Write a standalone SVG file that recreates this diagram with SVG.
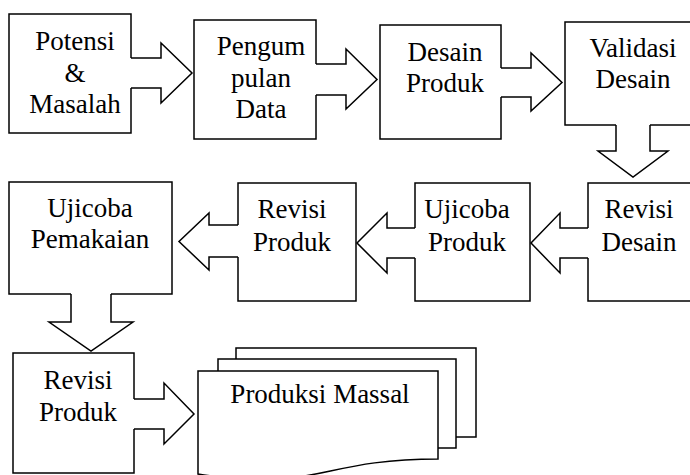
<svg xmlns="http://www.w3.org/2000/svg" width="690" height="475" viewBox="0 0 690 475">
<style>
.box{fill:#fff;stroke:#000;stroke-width:1.5}
.af{fill:#fff;stroke:none}
.as{fill:none;stroke:#000;stroke-width:1.5;stroke-linejoin:miter}
.t{font-family:'Liberation Serif','Times New Roman',Tinos,'DejaVu Serif',serif;font-size:27px;fill:#000;text-anchor:middle}
</style>
<rect width="690" height="475" fill="#fff"/>
<g id="n1"><rect class="box" x="9" y="14" width="122" height="119"/><g class="t" font-family="Liberation Serif, serif"><text x="75" y="50">Potensi</text><text x="75" y="82">&amp;</text><text x="75" y="113">Masalah</text></g></g>
<g id="n2"><rect class="box" x="194" y="20" width="122" height="119"/><g class="t" font-family="Liberation Serif, serif"><text x="261" y="55">Pengum</text><text x="261" y="87">pulan</text><text x="261" y="118">Data</text></g></g>
<g id="n3"><rect class="box" x="380" y="25" width="121" height="114"/><g class="t" font-family="Liberation Serif, serif"><text x="445" y="61">Desain</text><text x="445" y="92">Produk</text></g></g>
<g id="n4"><rect class="box" x="565" y="22" width="140" height="103"/><g class="t" font-family="Liberation Serif, serif"><text x="633" y="57">Validasi</text><text x="633" y="88">Desain</text></g></g>
<g id="n5"><rect class="box" x="588" y="183" width="120" height="118"/><g class="t" font-family="Liberation Serif, serif"><text x="639" y="218">Revisi</text><text x="639" y="251">Desain</text></g></g>
<g id="n6"><rect class="box" x="415" y="183" width="115" height="118"/><g class="t" font-family="Liberation Serif, serif"><text x="467" y="218">Ujicoba</text><text x="467" y="251">Produk</text></g></g>
<g id="n7"><rect class="box" x="238" y="183" width="118" height="118"/><g class="t" font-family="Liberation Serif, serif"><text x="292" y="218">Revisi</text><text x="292" y="251">Produk</text></g></g>
<g id="n8"><rect class="box" x="9" y="182" width="163" height="112"/><g class="t" font-family="Liberation Serif, serif"><text x="90" y="217">Ujicoba</text><text x="90" y="248">Pemakaian</text></g></g>
<g id="n9"><rect class="box" x="13" y="353" width="121" height="120"/><g class="t" font-family="Liberation Serif, serif"><text x="78" y="389">Revisi</text><text x="78" y="421">Produk</text></g></g>
<g id="n10">
<rect class="box" x="236" y="348" width="240" height="89"/>
<rect class="box" x="218" y="359" width="238" height="89"/>
<path class="box" d="M198,371 H438 V459 C318,459 318,493 198,474 Z"/>
<g class="t" font-family="Liberation Serif, serif"><text x="320" y="403">Produksi Massal</text></g>
</g>
<g id="connectors">
<polygon class="af" points="129,58 161,58 161,43 192,73 161,103 161,88 129,88"/>
<polyline class="as" points="131,58 161,58 161,43 192,73 161,103 161,88 131,88"/>
<polygon class="af" points="314,64 346,64 346,49 377,79.5 346,109 346,95 314,95"/>
<polyline class="as" points="316,64 346,64 346,49 377,79.5 346,109 346,95 316,95"/>
<polygon class="af" points="499,68 531,68 531,53 562,82.5 531,111 531,97 499,97"/>
<polyline class="as" points="501,68 531,68 531,53 562,82.5 531,111 531,97 501,97"/>
<polygon class="af" points="616,123 616,151 598,151 633,177 668,151 650,151 650,123"/>
<polyline class="as" points="616,125 616,151 598,151 633,177 668,151 650,151 650,125"/>
<polygon class="af" points="590,228 560,228 560,213 531,243 560,273 560,258 590,258"/>
<polyline class="as" points="588,228 560,228 560,213 531,243 560,273 560,258 588,258"/>
<polygon class="af" points="417,228 387,228 387,213 357,243 387,273 387,258 417,258"/>
<polyline class="as" points="415,228 387,228 387,213 357,243 387,273 387,258 415,258"/>
<polygon class="af" points="240,225 209,225 209,213 179,241.5 209,270 209,257 240,257"/>
<polyline class="as" points="238,225 209,225 209,213 179,241.5 209,270 209,257 238,257"/>
<polygon class="af" points="71,292 71,322 49,322 91,351 133,322 111,322 111,292"/>
<polyline class="as" points="71,294 71,322 49,322 91,351 133,322 111,322 111,294"/>
<polygon class="af" points="132,399 164,399 164,383 194,414 164,444 164,429 132,429"/>
<polyline class="as" points="134,399 164,399 164,383 194,414 164,444 164,429 134,429"/>
</g>
</svg>
